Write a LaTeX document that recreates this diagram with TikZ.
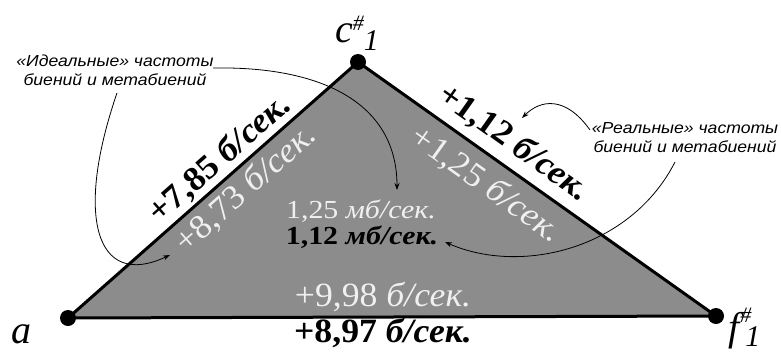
\documentclass[tikz,border=0pt]{standalone}
\usepackage{fontspec}
\setmainfont{Liberation Serif}
\newfontfamily\lsans{Liberation Sans}
\usetikzlibrary{arrows.meta}
\definecolor{trigray}{RGB}{140,140,140}
\definecolor{lightc}{RGB}{240,240,240}
\newcommand{\hstr}[1]{\scalebox{1.05}[1]{#1}}
\newcommand{\mstr}[1]{\scalebox{1.15}[1]{#1}}
\newcommand{\nstr}[1]{\scalebox{1.1}[1]{#1}}
\begin{document}
\begin{tikzpicture}[x=1pt,y=-1pt,
  vdot/.style={circle,fill=black,inner sep=0pt,minimum size=16pt},
  big/.style={font=\fontsize{34}{34}\selectfont,inner sep=0pt},
  mid/.style={font=\fontsize{26}{26}\selectfont,inner sep=0pt},
  vlab/.style={font=\fontsize{40}{40}\selectfont\itshape,inner sep=0pt},
  note/.style={font=\lsans\itshape\fontsize{16}{19}\selectfont,align=center,inner sep=0pt},
  ptr/.style={line width=0.8pt,-{Stealth[length=7pt,width=5pt]}},
  lt/.style={text=lightc},
]
\useasboundingbox (0,0) rectangle (781,351);
\coordinate (A) at (68,318);
\coordinate (C) at (358,62);
\coordinate (F) at (716,316);
\fill[trigray] (A) -- (C) -- (F) -- cycle;
\draw[line width=3pt,line join=round] (A) -- (C) -- (F) -- cycle;
\node[vdot] (a) at (A) {};
\node[vdot] (c) at (C) {};
\node[vdot] (f) at (F) {};

% edge labels
\node[big,rotate=41.4] (l1) at (220,159) {\hstr{\textbf{+7,85 \textit{б/сек.}}}};
\node[big,lt,rotate=41.4] (l2) at (246,189) {\hstr{+8,73 \textit{б/сек.}}};
\node[big,rotate=-35.4] (r1) at (514,143) {\hstr{\textbf{+1,12 \textit{б/сек.}}}};
\node[big,lt,rotate=-35.4] (r2) at (486,185) {\hstr{+1,25 \textit{б/сек.}}};
\node[big,lt] (b2) at (383,297) {\hstr{+9,98 \textit{б/сек.}}};
\node[big] (b1) at (383,333) {\hstr{\textbf{+8,97 \textit{б/сек.}}}};
\node[mid,lt] (m2) at (361,211) {\mstr{1,25 \textit{мб/сек.}}};
\node[mid] (m1) at (362,237) {\mstr{\textbf{1,12 \textit{мб/сек.}}}};

% vertex labels
\node[vlab,anchor=base west] (la) at (11,343) {a};
\node[vlab,anchor=base west] (lc) at (335,42) {c\raisebox{12pt}{\fontsize{22}{22}\selectfont\#}\raisebox{-8pt}{\fontsize{30}{30}\selectfont 1}};
\node[vlab,anchor=base west] (lf) at (728,340) {f\kern1pt\rlap{\raisebox{18pt}{\fontsize{22}{22}\selectfont\#}}\kern5pt\raisebox{-6pt}{\fontsize{30}{30}\selectfont 1}};

% notes
\node[note] (ideal) at (115,70) {\nstr{«Идеальные» частоты}\\\nstr{биений и метабиений}};
\node[note] (real) at (685,138) {\nstr{«Реальные» частоты}\\\nstr{биений и метабиений}};

% arrows
\coordinate (i1s) at (213,68);
\coordinate (i1e) at (397,190);
\coordinate (i2s) at (117,93);
\coordinate (i2e) at (170,255);
\coordinate (r1s) at (590,130);
\coordinate (r1e) at (522,118);
\coordinate (r2s) at (675,162);
\coordinate (r2e) at (445,242);
\draw[ptr] (i1s) .. controls (325,66) and (397,105) .. (i1e);
\draw[ptr] (i2s) .. controls (75,215) and (95,290) .. (i2e);
\draw[ptr] (r1s) .. controls (565,95) and (540,100) .. (r1e);
\draw[ptr] (r2s) .. controls (630,250) and (520,275) .. (r2e);
\end{tikzpicture}
\end{document}
